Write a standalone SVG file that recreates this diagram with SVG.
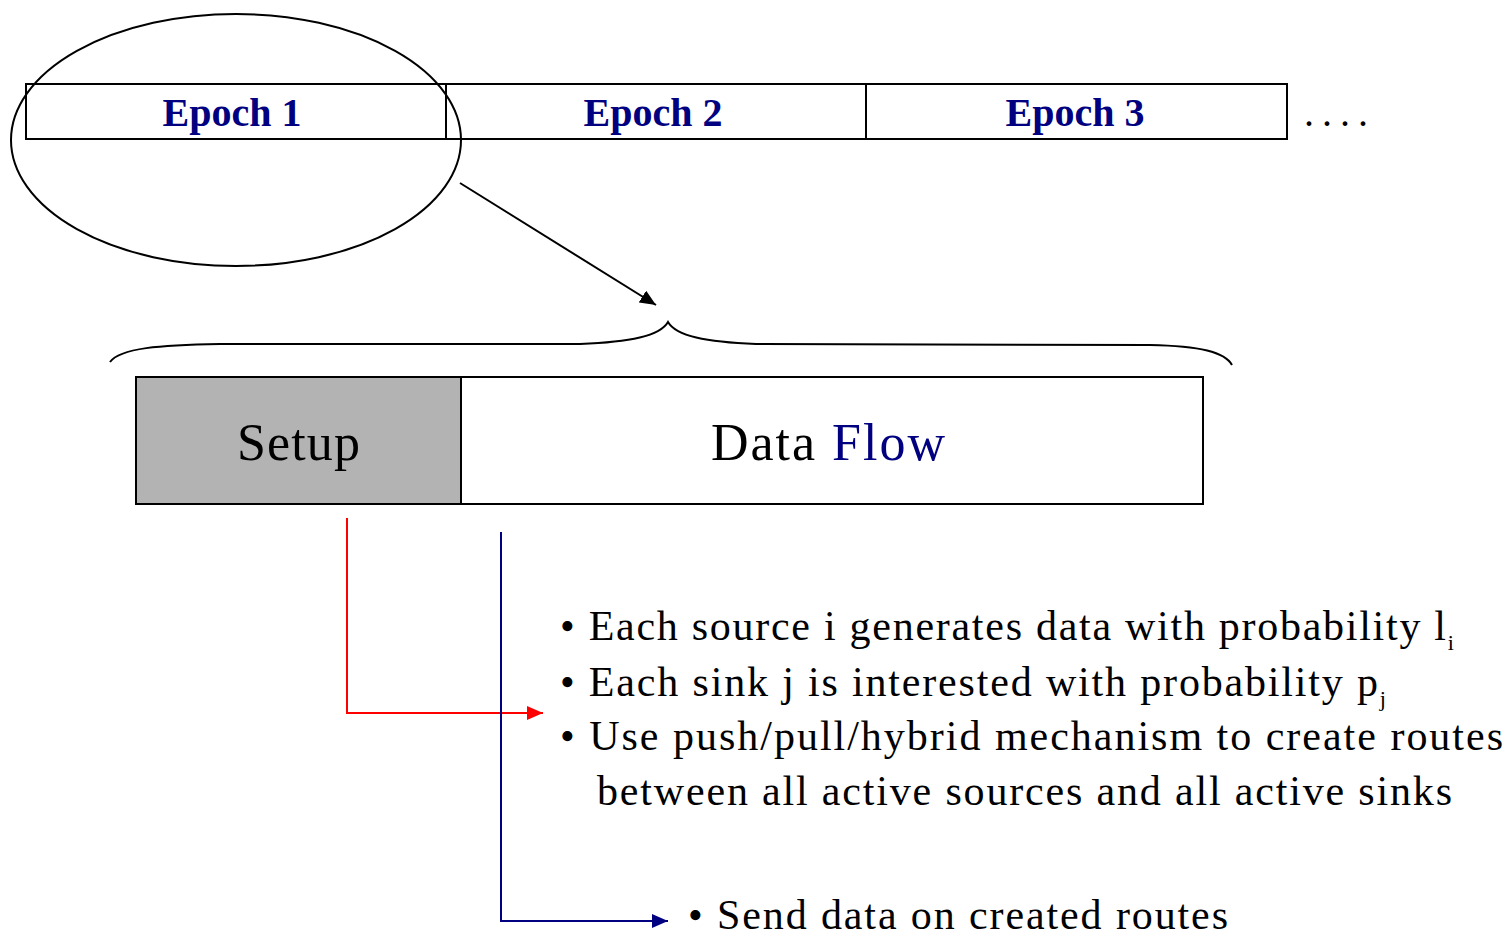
<svg xmlns="http://www.w3.org/2000/svg" width="1508" height="935" viewBox="0 0 1508 935">
<style>
.ln{fill:none;stroke:#000;stroke-width:2}
.ep{font-family:"Liberation Serif",serif;font-weight:bold;font-size:40px;fill:#000080;text-anchor:middle}
.big{font-family:"Liberation Serif",serif;font-size:52px;fill:#000}
.tx{font-family:"Liberation Serif",serif;font-size:42px;fill:#000}
.sub{font-size:22px}
</style>
<defs>
<marker id="ak" markerWidth="16" markerHeight="14" refX="16" refY="7" orient="auto" markerUnits="userSpaceOnUse"><path d="M0,0L16,7L0,14z" fill="#000"/></marker>
<marker id="ar" markerWidth="16" markerHeight="14" refX="16" refY="7" orient="auto" markerUnits="userSpaceOnUse"><path d="M0,0L16,7L0,14z" fill="#ff0000"/></marker>
<marker id="ab" markerWidth="16" markerHeight="14" refX="16" refY="7" orient="auto" markerUnits="userSpaceOnUse"><path d="M0,0L16,7L0,14z" fill="#000080"/></marker>
</defs>
<g id="epochs">
<rect class="ln" x="26" y="84" width="1261" height="55"/>
<line class="ln" x1="446" y1="84" x2="446" y2="139"/>
<line class="ln" x1="866" y1="84" x2="866" y2="139"/>
<text class="ep" x="232" y="126">Epoch 1</text>
<text class="ep" x="653" y="126">Epoch 2</text>
<text class="ep" x="1075" y="126">Epoch 3</text>
<text class="tx" x="1304" y="126" style="letter-spacing:8px;font-size:40px">....</text>
</g>
<g id="zoom-ellipse">
<ellipse class="ln" cx="236" cy="140" rx="225" ry="126"/>
</g>
<g id="brace">
<path class="ln" d="M110,362 C120,348 160,345 220,344 L580,344 C630,342 660,336 668,322 C676,336 706,342 756,344 L1150,345 C1200,346 1225,352 1232,365"/>
</g>
<g id="phases">
<rect x="136" y="377" width="325" height="127" fill="#b3b3b3" stroke="#000" stroke-width="2"/>
<rect x="461" y="377" width="742" height="127" fill="#fff" stroke="#000" stroke-width="2"/>
<text class="big" x="237" y="460" textLength="123" lengthAdjust="spacing">Setup</text>
<text class="big" x="711" y="460" textLength="234" lengthAdjust="spacing">Data <tspan fill="#000080">Flow</tspan></text>
</g>
<g id="setup-text">
<text class="tx" x="560" y="640"><tspan textLength="886" lengthAdjust="spacing">• Each source i generates data with probability l</tspan><tspan class="sub" dy="10">i</tspan></text>
<text class="tx" x="560" y="696"><tspan textLength="818" lengthAdjust="spacing">• Each sink j is interested with probability p</tspan><tspan class="sub" dy="10">j</tspan></text>
<text class="tx" x="560" y="750" textLength="943" lengthAdjust="spacing">• Use push/pull/hybrid mechanism to create routes</text>
<text class="tx" x="597" y="805" textLength="855" lengthAdjust="spacing">between all active sources and all active sinks</text>
</g>
<g id="flow-text">
<text class="tx" x="688" y="929" textLength="540" lengthAdjust="spacing">• Send data on created routes</text>
</g>
<g id="connectors">
<line x1="460" y1="183" x2="656" y2="305" stroke="#000" stroke-width="2" marker-end="url(#ak)"/>
<polyline points="347,518 347,713 543,713" fill="none" stroke="#ff0000" stroke-width="2" marker-end="url(#ar)"/>
<polyline points="501,532 501,921 668,921" fill="none" stroke="#000080" stroke-width="2" marker-end="url(#ab)"/>
</g>
</svg>
